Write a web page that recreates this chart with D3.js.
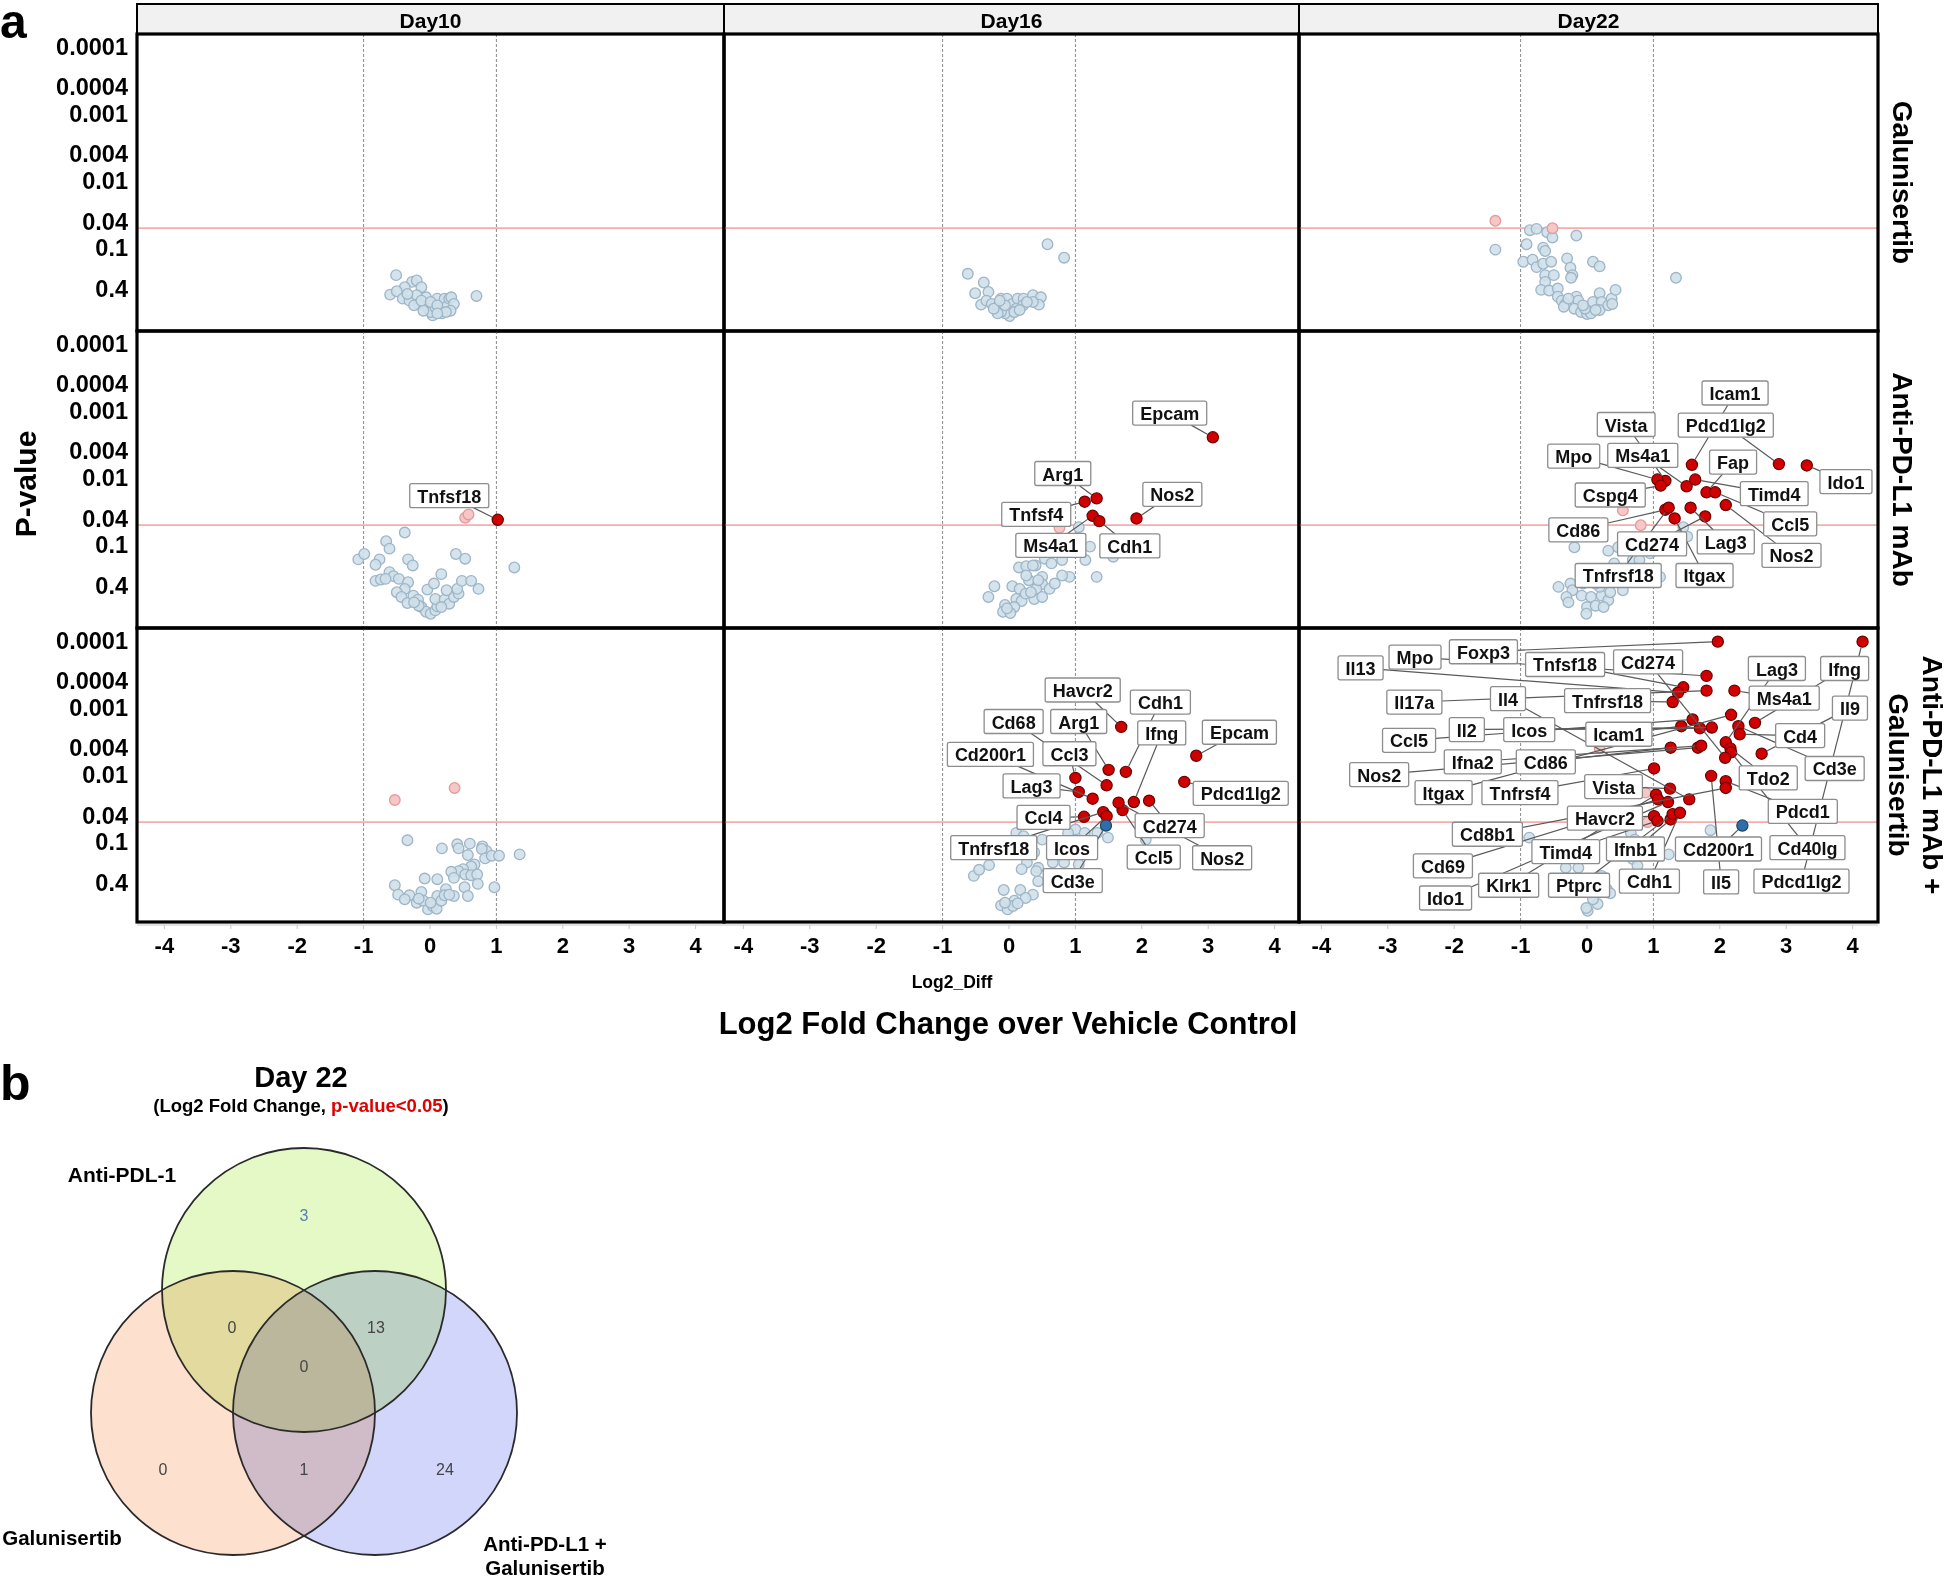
<!DOCTYPE html>
<html><head><meta charset="utf-8">
<script src="https://cdn.jsdelivr.net/npm/d3@7"></script>
<style>
body{margin:0;background:#fff}
svg{font-family:"Liberation Sans",Arial,Helvetica,sans-serif}
</style></head><body>
<svg id="c" width="1946" height="1578"></svg>
<script>
// ---------------- DATA ----------------
const days = ["Day10","Day16","Day22"];
const treatments = [["Galunisertib"],["Anti-PD-L1 mAb"],["Anti-PD-L1 mAb +","Galunisertib"]];
const xTicks = [-4,-3,-2,-1,0,1,2,3,4];
const pTicks = [0.0001,0.0004,0.001,0.004,0.01,0.04,0.1,0.4];
const pThreshold = 0.05;
const fcThresholds = [-1, 1];

// points: [log2 fold change, -log10(p-value)]
const galuDay10Gray = [[-0.51,0.60],[-0.27,0.50],[-0.20,0.52],[-0.38,0.42],[-0.13,0.42],[-0.60,0.31],[-0.50,0.36],[-0.41,0.25],[-0.31,0.22],[-0.20,0.30],[-0.17,0.17],[-0.06,0.27],[-0.03,0.10],[0.04,0.00],[0.01,0.05],[0.11,0.25],[0.15,0.07],[0.22,0.25],[0.25,0.13],[0.29,0.25],[0.32,0.27],[0.36,0.17],[0.31,0.07],[0.18,0.03],[-0.10,0.07],[-0.24,0.15],[0.08,0.12],[0.70,0.29],[-0.34,0.32],[-0.13,0.22],[0.01,0.20],[0.11,0.15],[0.24,0.05],[0.11,0.03]];
const galuDay16Gray = [[0.58,1.06],[0.83,0.86],[-0.62,0.62],[-0.38,0.49],[-0.31,0.35],[-0.51,0.33],[-0.42,0.16],[-0.34,0.22],[-0.26,0.17],[-0.17,0.13],[-0.12,0.25],[-0.03,0.25],[0.05,0.17],[0.13,0.25],[0.22,0.25],[0.36,0.30],[0.48,0.27],[0.45,0.16],[0.36,0.20],[0.21,0.15],[0.11,0.10],[0.01,-0.01],[-0.06,0.03],[-0.12,0.05],[0.08,0.05],[0.16,0.08],[-0.17,0.03],[-0.23,0.10],[0.27,0.20],[-0.06,0.15],[-0.14,0.22]];
const galuDay22Gray = [[-1.38,0.98],[-0.86,1.27],[-0.76,1.29],[-0.60,1.24],[-0.52,1.16],[-0.16,1.19],[-0.91,1.06],[-0.66,1.01],[-0.63,0.96],[-0.96,0.80],[-0.82,0.83],[-0.76,0.72],[-0.66,0.77],[-0.54,0.80],[-0.30,0.85],[-0.25,0.71],[-0.22,0.60],[-0.24,0.56],[0.09,0.80],[0.19,0.73],[1.34,0.56],[-0.63,0.60],[-0.50,0.60],[-0.63,0.50],[-0.69,0.38],[-0.57,0.37],[-0.44,0.40],[-0.44,0.28],[-0.38,0.22],[-0.32,0.17],[-0.35,0.13],[-0.16,0.28],[-0.13,0.22],[-0.19,0.10],[-0.09,0.05],[0.00,0.02],[0.06,0.03],[-0.03,0.10],[0.09,0.20],[0.19,0.33],[0.22,0.20],[0.19,0.08],[0.32,0.15],[0.37,0.25],[0.43,0.38],[0.38,0.17],[0.13,0.08],[-0.06,0.15],[-0.28,0.25]];
const galuDay22Pink = [[-1.38,1.41],[-0.52,1.30]];

const antiDay10Gray = [[-0.38,1.19],[-0.66,1.06],[-0.61,0.95],[-1.08,0.79],[-0.99,0.87],[-0.76,0.79],[-0.82,0.71],[-0.33,0.79],[-0.26,0.70],[0.39,0.87],[0.53,0.80],[1.27,0.67],[0.17,0.57],[-0.61,0.60],[-0.55,0.54],[-0.47,0.50],[-0.82,0.47],[-0.74,0.49],[-0.67,0.50],[-0.33,0.45],[-0.38,0.35],[-0.50,0.30],[-0.43,0.23],[-0.34,0.14],[-0.25,0.25],[-0.18,0.19],[-0.13,0.08],[-0.06,0.01],[0.01,-0.02],[0.08,0.03],[0.11,0.09],[0.08,0.20],[-0.04,0.34],[0.06,0.43],[0.22,0.19],[0.29,0.13],[0.36,0.23],[0.43,0.28],[0.41,0.35],[0.48,0.47],[0.62,0.47],[0.73,0.35],[0.17,0.08],[-0.17,0.10],[0.25,0.33],[-0.24,0.15]];
const antiDay10Pink = [[0.53,1.41],[0.58,1.46]];
const antiDay10Genes = [{gene:"Tnfsf18",fc:1.02,nlp:1.38,dir:"up"}];

const antiDay16Gray = [[1.05,1.27],[1.22,0.98],[1.15,0.78],[1.57,0.83],[1.32,0.53],[0.91,0.53],[0.80,0.78],[0.54,0.80],[0.40,0.70],[0.15,0.67],[0.26,0.69],[0.36,0.70],[0.64,0.73],[0.50,0.53],[0.30,0.48],[0.26,0.55],[0.50,0.42],[0.41,0.35],[0.61,0.35],[0.69,0.43],[0.80,0.55],[-0.22,0.39],[0.05,0.39],[0.16,0.35],[-0.31,0.23],[0.11,0.20],[0.38,0.20],[0.50,0.23],[0.19,0.17],[-0.06,0.11],[0.08,0.08],[-0.09,0.01],[0.02,-0.01],[-0.03,0.06],[0.25,0.28],[0.33,0.30],[0.44,0.48]];
const antiDay16Pink = [[0.76,1.26]];
const antiDay16Genes = [
  {gene:"Epcam",fc:3.07,nlp:2.61,dir:"up"},{gene:"Arg1",fc:1.32,nlp:1.70,dir:"up"},
  {gene:"Tnfsf4",fc:1.14,nlp:1.65,dir:"up"},{gene:"Nos2",fc:1.92,nlp:1.40,dir:"up"},
  {gene:"Ms4a1",fc:1.26,nlp:1.44,dir:"up"},{gene:"Cdh1",fc:1.36,nlp:1.36,dir:"up"}];

const antiDay22Gray = [[1.45,1.27],[1.51,1.13],[-0.19,0.97],[0.32,0.92],[0.47,0.97],[0.41,0.73],[0.69,0.78],[0.79,0.78],[0.95,0.88],[1.10,0.53],[-0.43,0.38],[-0.25,0.43],[-0.22,0.33],[-0.31,0.23],[-0.28,0.15],[-0.08,0.25],[0.06,0.23],[0.00,0.08],[-0.01,-0.02],[0.13,0.10],[0.22,0.25],[0.32,0.18],[0.19,0.38],[0.13,0.43],[0.54,0.33],[0.35,0.30],[-0.06,0.43],[0.25,0.08]];
const antiDay22Pink = [[0.81,1.30],[0.54,1.52]];
const antiDay22Genes = [
  {gene:"Icam1",fc:1.58,nlp:2.20,dir:"up"},{gene:"Pdcd1lg2",fc:2.89,nlp:2.21,dir:"up"},
  {gene:"Ido1",fc:3.31,nlp:2.19,dir:"up"},{gene:"Vista",fc:1.18,nlp:1.96,dir:"up"},
  {gene:"Mpo",fc:1.06,nlp:1.98,dir:"up"},{gene:"Ms4a1",fc:1.50,nlp:1.88,dir:"up"},
  {gene:"Cspg4",fc:1.11,nlp:1.89,dir:"up"},{gene:"Fap",fc:1.80,nlp:1.79,dir:"up"},
  {gene:"Timd4",fc:1.63,nlp:1.98,dir:"up"},{gene:"Ccl5",fc:1.93,nlp:1.79,dir:"up"},
  {gene:"Nos2",fc:2.09,nlp:1.60,dir:"up"},{gene:"Lag3",fc:1.56,nlp:1.56,dir:"up"},
  {gene:"Cd274",fc:1.78,nlp:1.43,dir:"up"},{gene:"Cd86",fc:1.18,nlp:1.53,dir:"up"},
  {gene:"Tnfrsf18",fc:1.23,nlp:1.56,dir:"up"},{gene:"Itgax",fc:1.32,nlp:1.40,dir:"up"}];

const comboDay10Gray = [[-0.34,1.03],[0.18,0.91],[0.41,0.97],[0.43,0.91],[0.60,0.98],[0.79,0.94],[0.85,0.87],[0.78,0.90],[0.57,0.81],[0.83,0.76],[0.93,0.80],[1.04,0.80],[1.35,0.82],[0.67,0.67],[0.62,0.64],[0.50,0.60],[0.43,0.57],[0.32,0.56],[0.36,0.47],[0.53,0.52],[0.62,0.51],[0.71,0.52],[0.72,0.38],[0.97,0.33],[0.52,0.33],[0.57,0.20],[0.36,0.20],[0.24,0.30],[0.11,0.45],[-0.08,0.46],[-0.53,0.36],[-0.48,0.22],[-0.31,0.21],[-0.38,0.15],[-0.20,0.10],[-0.13,0.26],[-0.10,0.13],[-0.03,0.00],[0.04,0.05],[0.10,0.01],[0.11,0.20],[0.17,0.13],[0.22,0.21],[0.01,0.10],[-0.17,0.16],[0.29,0.22]];
const comboDay10Pink = [[-0.53,1.63],[0.37,1.81]];

const comboDay16Gray = [[0.11,1.14],[0.22,1.09],[1.00,1.19],[1.14,1.14],[1.33,1.14],[1.49,1.07],[2.06,1.04],[0.89,1.14],[0.50,1.04],[0.38,0.85],[0.27,0.70],[0.44,0.62],[0.66,0.70],[0.83,0.70],[1.05,0.67],[-0.53,0.50],[-0.45,0.59],[-0.30,0.66],[0.19,0.60],[0.44,0.42],[0.41,0.57],[-0.08,0.29],[0.17,0.29],[0.36,0.22],[0.25,0.17],[0.08,0.13],[-0.12,0.06],[-0.02,0.00],[0.06,0.05],[0.13,0.09],[-0.06,0.10]];
const comboDay16Genes = [
  {gene:"Havcr2",fc:1.69,nlp:2.72,dir:"up"},{gene:"Cdh1",fc:1.76,nlp:2.05,dir:"up"},
  {gene:"Epcam",fc:2.82,nlp:2.29,dir:"up"},{gene:"Pdcd1lg2",fc:2.64,nlp:1.90,dir:"up"},
  {gene:"Arg1",fc:1.50,nlp:2.08,dir:"up"},{gene:"Ifng",fc:1.88,nlp:1.60,dir:"up"},
  {gene:"Ccl3",fc:1.00,nlp:1.96,dir:"up"},{gene:"Cd68",fc:1.47,nlp:1.85,dir:"up"},
  {gene:"Cd200r1",fc:1.26,nlp:1.65,dir:"up"},{gene:"Lag3",fc:1.05,nlp:1.75,dir:"up"},
  {gene:"Ccl4",fc:1.13,nlp:1.38,dir:"up"},{gene:"Cd274",fc:2.11,nlp:1.62,dir:"up"},
  {gene:"Ccl5",fc:1.71,nlp:1.48,dir:"up"},{gene:"Nos2",fc:1.65,nlp:1.59,dir:"up"},
  {gene:"Tnfrsf18",fc:1.42,nlp:1.45,dir:"up"},{gene:"Icos",fc:1.47,nlp:1.39,dir:"up"},
  {gene:"Cd3e",fc:1.46,nlp:1.25,dir:"down"}];

const comboDay22Gray = [[-0.87,1.07],[1.86,1.18],[0.66,1.14],[0.72,1.04],[1.23,0.82],[0.69,0.75],[0.76,0.65],[-0.13,0.62],[-0.32,0.62],[0.22,0.50],[0.30,0.30],[0.35,0.24],[0.16,0.08],[0.09,0.15],[0.01,-0.02],[-0.01,0.02],[-0.06,0.35],[0.19,0.40]];
const comboDay22Pink = [[0.19,2.40],[0.88,1.74],[0.91,1.30]];
const comboDay22Genes = [
  {gene:"Foxp3",fc:1.97,nlp:3.99,dir:"up"},{gene:"Pdcd1lg2",fc:4.15,nlp:3.99,dir:"up"},
  {gene:"Mpo",fc:1.80,nlp:3.48,dir:"up"},{gene:"Tnfsf18",fc:1.45,nlp:3.31,dir:"up"},
  {gene:"Il13",fc:1.37,nlp:3.23,dir:"up"},{gene:"Il17a",fc:1.80,nlp:3.26,dir:"up"},
  {gene:"Ms4a1",fc:2.22,nlp:3.26,dir:"up"},{gene:"Tnfrsf18",fc:1.29,nlp:3.09,dir:"up"},
  {gene:"Itgax",fc:2.17,nlp:2.90,dir:"up"},{gene:"Ccl5",fc:1.59,nlp:2.83,dir:"up"},
  {gene:"Ifng",fc:2.53,nlp:2.78,dir:"up"},{gene:"Cd3e",fc:2.28,nlp:2.73,dir:"up"},
  {gene:"Icam1",fc:1.42,nlp:2.73,dir:"up"},{gene:"Icos",fc:1.70,nlp:2.70,dir:"up"},
  {gene:"Il2",fc:1.88,nlp:2.71,dir:"up"},{gene:"Cd4",fc:2.30,nlp:2.61,dir:"up"},
  {gene:"Cd86",fc:1.26,nlp:2.41,dir:"up"},{gene:"Nos2",fc:1.67,nlp:2.41,dir:"up"},
  {gene:"Ifna2",fc:1.72,nlp:2.44,dir:"up"},{gene:"Lag3",fc:2.09,nlp:2.49,dir:"up"},
  {gene:"Tdo2",fc:2.16,nlp:2.40,dir:"up"},{gene:"Cd40lg",fc:2.17,nlp:2.34,dir:"up"},
  {gene:"Cd274",fc:2.08,nlp:2.26,dir:"up"},{gene:"Il9",fc:2.63,nlp:2.32,dir:"up"},
  {gene:"Tnfrsf4",fc:1.01,nlp:2.10,dir:"up"},{gene:"Il5",fc:1.87,nlp:1.99,dir:"up"},
  {gene:"Pdcd1",fc:2.09,nlp:1.91,dir:"up"},{gene:"Cd8b1",fc:2.09,nlp:1.81,dir:"up"},
  {gene:"Vista",fc:1.25,nlp:1.80,dir:"up"},{gene:"Klrk1",fc:1.04,nlp:1.71,dir:"up"},
  {gene:"Cd69",fc:1.07,nlp:1.64,dir:"up"},{gene:"Ido1",fc:1.22,nlp:1.60,dir:"up"},
  {gene:"Il4",fc:1.54,nlp:1.64,dir:"up"},{gene:"Havcr2",fc:1.01,nlp:1.39,dir:"up"},
  {gene:"Timd4",fc:1.06,nlp:1.32,dir:"up"},{gene:"Ifnb1",fc:1.26,nlp:1.34,dir:"up"},
  {gene:"Ptprc",fc:1.29,nlp:1.42,dir:"up"},{gene:"Cdh1",fc:1.40,nlp:1.44,dir:"up"},
  {gene:"Cd200r1",fc:2.34,nlp:1.25,dir:"down"}];

// Venn (panel b)
const vennTitle = "Day 22";
const vennSets = ["Anti-PDL-1","Galunisertib","Anti-PD-L1 +|Galunisertib"];
const vennRegions = ["A","G","C","AG","AC","GC","AGC"];
const vennCounts = [3,0,24,0,13,1,0];

// ---------------- LAYOUT (positions / styles) ----------------
const colZero = [430, 1009, 1587], unitPx = 66.4;
const colEdges = [137, 724, 1299, 1878];
const rowEdges = [34, 331, 628, 922];
const decadePx = 67.1;
const stripTop = 4;

// label anchor centres in data units [log2FC, -log10 p]
const labelPos = {
 "1-0": {Tnfsf18:[0.29,1.74]},
 "1-1": {Epcam:[2.42,2.97],Arg1:[0.81,2.07],Tnfsf4:[0.41,1.46],Nos2:[2.46,1.76],Ms4a1:[0.63,1.00],Cdh1:[1.82,0.99]},
 "1-2": {Icam1:[2.23,3.27],Pdcd1lg2:[2.09,2.79],Vista:[0.59,2.80],Mpo:[-0.20,2.33],Ms4a1:[0.84,2.34],Fap:[2.20,2.24],Ido1:[3.90,1.95],Timd4:[2.82,1.77],Cspg4:[0.35,1.75],Ccl5:[3.06,1.32],Cd86:[-0.13,1.23],Cd274:[0.98,1.02],Lag3:[2.09,1.05],Nos2:[3.08,0.85],Tnfrsf18:[0.47,0.55],Itgax:[1.77,0.55]},
 "2-1": {Havcr2:[1.11,3.27],Cdh1:[2.28,3.09],Cd68:[0.07,2.80],Arg1:[1.05,2.80],Ifng:[2.30,2.63],Epcam:[3.47,2.64],Cd200r1:[-0.28,2.31],Ccl3:[0.91,2.32],Lag3:[0.34,1.84],Pdcd1lg2:[3.49,1.73],Ccl4:[0.52,1.37],Cd274:[2.42,1.25],Tnfrsf18:[-0.23,0.92],Icos:[0.95,0.92],Ccl5:[2.18,0.78],Nos2:[3.21,0.77],Cd3e:[0.96,0.43]},
 "2-2": {Il13:[-3.41,3.60],Mpo:[-2.59,3.76],Foxp3:[-1.56,3.84],Tnfsf18:[-0.33,3.65],Cd274:[0.92,3.69],Lag3:[2.86,3.59],Ifng:[3.88,3.59],Il17a:[-2.60,3.09],Il4:[-1.19,3.14],Tnfrsf18:[0.31,3.11],Ms4a1:[2.97,3.15],Il9:[3.96,3.00],Ccl5:[-2.68,2.52],Il2:[-1.81,2.68],Icos:[-0.87,2.68],Icam1:[0.48,2.61],Cd4:[3.21,2.59],Nos2:[-3.13,2.01],Ifna2:[-1.72,2.20],Cd86:[-0.62,2.20],Cd3e:[3.73,2.10],Tdo2:[2.73,1.96],Itgax:[-2.16,1.74],Tnfrsf4:[-1.01,1.74],Vista:[0.40,1.83],Pdcd1:[3.25,1.46],Havcr2:[0.27,1.36],Cd8b1:[-1.50,1.12],Cd40lg:[3.32,0.92],Timd4:[-0.32,0.86],Ifnb1:[0.73,0.90],Cd200r1:[1.98,0.90],Cd69:[-2.17,0.65],Klrk1:[-1.18,0.36],Ptprc:[-0.12,0.36],Cdh1:[0.94,0.42],Il5:[2.02,0.41],Pdcd1lg2:[3.23,0.42],Ido1:[-2.13,0.17]}
};

const panels = [
 {r:0,c:0,gray:galuDay10Gray,pink:[],genes:[]},
 {r:0,c:1,gray:galuDay16Gray,pink:[],genes:[]},
 {r:0,c:2,gray:galuDay22Gray,pink:galuDay22Pink,genes:[]},
 {r:1,c:0,gray:antiDay10Gray,pink:antiDay10Pink,genes:antiDay10Genes},
 {r:1,c:1,gray:antiDay16Gray,pink:antiDay16Pink,genes:antiDay16Genes},
 {r:1,c:2,gray:antiDay22Gray,pink:antiDay22Pink,genes:antiDay22Genes},
 {r:2,c:0,gray:comboDay10Gray,pink:comboDay10Pink,genes:[]},
 {r:2,c:1,gray:comboDay16Gray,pink:[],genes:comboDay16Genes},
 {r:2,c:2,gray:comboDay22Gray,pink:comboDay22Pink,genes:comboDay22Genes}
];

const svg = d3.select("#c");
const xScale = c => d3.scaleLinear().domain([-4,4]).range([colZero[c]-4*unitPx, colZero[c]+4*unitPx]);
const yScale = r => d3.scaleLinear().domain([4,0]).range([rowEdges[r]+13, rowEdges[r]+13+4*decadePx]);
const nlp = p => -Math.log10(p);
const R = 5.3;

// panel label a
svg.append("text").attr("x",0).attr("y",38).attr("font-size",48).attr("font-weight","bold").text("a");

// strips
days.forEach((d,c)=>{
  svg.append("rect").attr("x",colEdges[c]).attr("y",stripTop).attr("width",colEdges[c+1]-colEdges[c]).attr("height",rowEdges[0]-stripTop)
    .attr("fill","#f1f1f1").attr("stroke","#000").attr("stroke-width",2);
  svg.append("text").attr("x",(colEdges[c]+colEdges[c+1])/2).attr("y",(stripTop+rowEdges[0])/2+1)
    .attr("text-anchor","middle").attr("dominant-baseline","central").attr("font-size",21).attr("font-weight","bold").text(d);
});

// panels
panels.forEach(P=>{
  const x = xScale(P.c), y = yScale(P.r);
  const g = svg.append("g");
  const cid = "clip"+P.r+P.c;
  g.append("clipPath").attr("id",cid).append("rect")
    .attr("x",colEdges[P.c]).attr("y",rowEdges[P.r]).attr("width",colEdges[P.c+1]-colEdges[P.c]).attr("height",rowEdges[P.r+1]-rowEdges[P.r]);
  const gg = g.append("g").attr("clip-path",`url(#${cid})`);
  fcThresholds.forEach(t=>{
    gg.append("line").attr("x1",x(t)).attr("x2",x(t)).attr("y1",rowEdges[P.r]).attr("y2",rowEdges[P.r+1])
      .attr("stroke","#8a8a8a").attr("stroke-width",1).attr("stroke-dasharray","3,2");
  });
  gg.append("line").attr("x1",colEdges[P.c]).attr("x2",colEdges[P.c+1]).attr("y1",y(nlp(pThreshold))).attr("y2",y(nlp(pThreshold)))
    .attr("stroke","#f5adad").attr("stroke-width",1.8);
  gg.selectAll("circle.gray").data(P.gray).join("circle").attr("class","gray")
    .attr("cx",d=>x(d[0])).attr("cy",d=>y(d[1])).attr("r",R)
    .attr("fill","#cfe0ea").attr("fill-opacity",0.9).attr("stroke","#9db5c6").attr("stroke-width",1.3);
  gg.selectAll("circle.pink").data(P.pink).join("circle").attr("class","pink")
    .attr("cx",d=>x(d[0])).attr("cy",d=>y(d[1])).attr("r",R)
    .attr("fill","#f7c6c6").attr("stroke","#e39a9a").attr("stroke-width",1.3);
  gg.selectAll("circle.sig").data(P.genes).join("circle").attr("class","sig")
    .attr("cx",d=>x(d.fc)).attr("cy",d=>y(d.nlp)).attr("r",R+0.3)
    .attr("fill",d=>d.dir==="up"?"#d10000":"#2f6ea6").attr("stroke",d=>d.dir==="up"?"#6a0000":"#1b4670").attr("stroke-width",1.2);
  // labels
  const lp = labelPos[P.r+"-"+P.c] || {};
  const segG = gg.append("g"), boxG = gg.append("g");
  P.genes.forEach(d=>{
    const pos = lp[d.gene]; if(!pos) return;
    const cx = x(pos[0]), cy = y(pos[1]);
    const t = boxG.append("text").attr("x",cx).attr("y",cy+1).attr("text-anchor","middle").attr("dominant-baseline","central")
      .attr("font-size",18).attr("font-weight","bold").attr("fill","#111").text(d.gene);
    const w = t.node().getComputedTextLength()+15, h = 24;
    boxG.insert("rect","text").attr("x",cx-w/2).attr("y",cy-h/2).attr("width",w).attr("height",h).attr("rx",2)
      .attr("fill","#fff").attr("stroke","#8d8d8d").attr("stroke-width",1.3);
    const px = x(d.fc), py = y(d.nlp);
    const dx = px-cx, dy = py-cy;
    const s = Math.max(Math.abs(dx)/(w/2), Math.abs(dy)/(h/2));
    if (s>1){
      const bx = cx+dx/s, by = cy+dy/s;
      const L = Math.hypot(px-bx,py-by);
      if (L>R+1){
        const ex = px-(px-bx)*(R+0.5)/L, ey = py-(py-by)*(R+0.5)/L;
        segG.append("line").attr("x1",bx).attr("y1",by).attr("x2",ex).attr("y2",ey).attr("stroke","#5a5a5a").attr("stroke-width",1.2);
      }
    }
  });
  // frame
  g.append("rect").attr("x",colEdges[P.c]).attr("y",rowEdges[P.r]).attr("width",colEdges[P.c+1]-colEdges[P.c]).attr("height",rowEdges[P.r+1]-rowEdges[P.r])
    .attr("fill","none").attr("stroke","#000").attr("stroke-width",3.2);
});

// y axis tick labels
[0,1,2].forEach(r=>{
  const y = yScale(r);
  svg.append("g").selectAll("text").data(pTicks).join("text")
    .attr("x",128).attr("y",d=>y(nlp(d))).attr("text-anchor","end").attr("dominant-baseline","central")
    .attr("font-size",23.5).attr("font-weight","bold").text(d=>String(d));
});
// x axes
[0,1,2].forEach(c=>{
  const x = xScale(c);
  const ax = svg.append("g").attr("transform","translate(0,925)");
  ax.append("line").attr("x1",colEdges[c]).attr("x2",colEdges[c+1]).attr("stroke","#c8c8c8").attr("stroke-width",1.2);
  ax.selectAll("line.t").data(xTicks).join("line").attr("class","t").attr("x1",d=>x(d)).attr("x2",d=>x(d)).attr("y1",0).attr("y2",4).attr("stroke","#c8c8c8");
  ax.selectAll("text").data(xTicks).join("text").attr("x",d=>x(d)).attr("y",20).attr("text-anchor","middle").attr("dominant-baseline","central")
    .attr("font-size",22).attr("font-weight","bold").text(d=>d);
});
svg.append("text").attr("x",952).attr("y",982).attr("text-anchor","middle").attr("dominant-baseline","central").attr("font-size",17.5).attr("font-weight","bold").text("Log2_Diff");
svg.append("text").attr("x",1008).attr("y",1023).attr("text-anchor","middle").attr("dominant-baseline","central").attr("font-size",31).attr("font-weight","bold").text("Log2 Fold Change over Vehicle Control");
svg.append("text").attr("transform","translate(25,484) rotate(-90)").attr("text-anchor","middle").attr("dominant-baseline","central").attr("font-size",30).attr("font-weight","bold").text("P-value");

// row labels
treatments.forEach((lines,r)=>{
  const cy = (rowEdges[r]+rowEdges[r+1])/2;
  const xs = lines.length===1 ? [1902] : [1932,1898];
  lines.forEach((ln,i)=>{
    svg.append("text").attr("transform",`translate(${xs[i]},${cy}) rotate(90)`).attr("text-anchor","middle").attr("dominant-baseline","central")
      .attr("font-size",28).attr("font-weight","bold").text(ln);
  });
});

// ---------------- Venn ----------------
svg.append("text").attr("x",0).attr("y",1100).attr("font-size",50).attr("font-weight","bold").text("b");
svg.append("text").attr("x",301).attr("y",1077).attr("text-anchor","middle").attr("dominant-baseline","central").attr("font-size",29).attr("font-weight","bold").text(vennTitle);
const sub = svg.append("text").attr("x",301).attr("y",1105).attr("text-anchor","middle").attr("dominant-baseline","central").attr("font-size",18.5).attr("font-weight","bold");
sub.append("tspan").text("(Log2 Fold Change, ");
sub.append("tspan").attr("fill","#e00000").text("p-value<0.05");
sub.append("tspan").text(")");

const vennCircles = [{cx:304,cy:1290,fill:"#e5f9c7"},{cx:233,cy:1413,fill:"#fde0cd"},{cx:375,cy:1413,fill:"#d2d6fb"}];
const vr = 142;
const vg = svg.append("g").style("isolation","isolate");
vg.selectAll("circle.f").data(vennCircles).join("circle").attr("class","f").attr("cx",d=>d.cx).attr("cy",d=>d.cy).attr("r",vr)
  .attr("fill",d=>d.fill).style("mix-blend-mode","multiply");
svg.selectAll("circle.o").data(vennCircles).join("circle").attr("class","o").attr("cx",d=>d.cx).attr("cy",d=>d.cy).attr("r",vr)
  .attr("fill","none").attr("stroke","#2a2a2a").attr("stroke-width",1.8);
const regionPos = {A:[304,1215],G:[163,1469],C:[445,1469],AG:[232,1327],AC:[376,1327],GC:[304,1469],AGC:[304,1366]};
svg.append("g").selectAll("text").data(vennRegions).join("text")
  .attr("x",d=>regionPos[d][0]).attr("y",d=>regionPos[d][1]).attr("text-anchor","middle").attr("dominant-baseline","central")
  .attr("font-size",16).attr("fill",d=>d==="A"?"#5a7fb5":"#444").text((d,i)=>vennCounts[i]);
const setLabelPos = [[122,1174],[62,1537],[545,1543]];
vennSets.forEach((s,i)=>{
  s.split("|").forEach((ln,j)=>{
    svg.append("text").attr("x",setLabelPos[i][0]).attr("y",setLabelPos[i][1]+j*24).attr("text-anchor","middle").attr("dominant-baseline","central")
      .attr("font-size",i===0?21:20.5).attr("font-weight","bold").text(ln);
  });
});
</script></body></html>
